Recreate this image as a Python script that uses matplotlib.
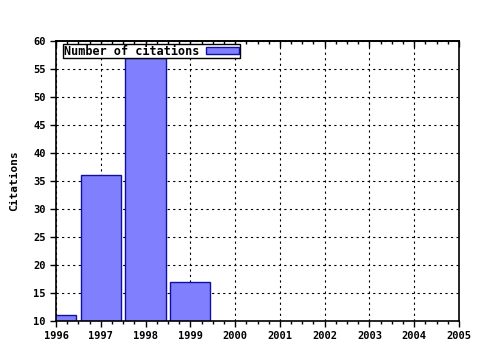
import matplotlib
matplotlib.use("Agg")
import matplotlib.pyplot as plt
from matplotlib.ticker import MultipleLocator

years = [1996, 1997, 1998, 1999]
citations = [11, 36, 57, 17]
xticks = list(range(1996, 2006))
yticks = list(range(10, 61, 5))

fig = plt.figure(figsize=(4.8, 3.5), dpi=100)
ax = fig.add_axes([56/480, 1-321/350, (459-56)/480, (321-41)/350])

ax.bar(years, citations, width=0.9, color="#8080FF", edgecolor="#1010A0",
       linewidth=1.0, label="Number of citations", zorder=2)
ax.set_xlim(1996, 2005)
ax.set_ylim(10, 60)
ax.set_xticks(xticks)
ax.set_xticklabels([str(x) for x in xticks])
ax.set_yticks(yticks)
ax.xaxis.set_minor_locator(MultipleLocator(0.25))
ax.grid(True, which="major", color="black", linestyle=(0, (2, 3)), linewidth=0.8, zorder=1)
ax.set_axisbelow(True)

font = dict(family="DejaVu Sans Mono", weight="bold", size=8)
for lab in ax.get_xticklabels() + ax.get_yticklabels():
    lab.set_fontfamily("DejaVu Sans Mono")
    lab.set_fontweight("bold")
    lab.set_fontsize(7.5)
ax.set_ylabel("Citations", fontdict=font, labelpad=10)

ax.tick_params(axis="x", which="major", direction="out", length=4, width=1)
ax.tick_params(axis="x", which="minor", direction="out", length=2, width=1)
ax.tick_params(axis="y", which="major", direction="out", length=4, width=1)
for s in ax.spines.values():
    s.set_linewidth(1.2)

top = ax.secondary_xaxis("top")
top.set_xticks(xticks)
top.xaxis.set_minor_locator(MultipleLocator(0.25))
top.tick_params(axis="x", which="major", direction="in", length=4, width=1, labeltop=False)
top.tick_params(axis="x", which="minor", direction="in", length=2, width=1)
top.spines["top"].set_linewidth(1.2)

leg = ax.legend(loc="upper left", bbox_to_anchor=(63/480, 1-44/350),
                bbox_transform=fig.transFigure,
                prop=dict(family="DejaVu Sans Mono", weight="bold", size=8.5),
                frameon=True, fancybox=False, edgecolor="black", framealpha=1,
                markerfirst=False, borderpad=0.05, handlelength=2.8, handleheight=0.6,
                borderaxespad=0.0, handletextpad=0.6)
leg.get_frame().set_linewidth(1.0)

fig.savefig("out.png", dpi=100)
